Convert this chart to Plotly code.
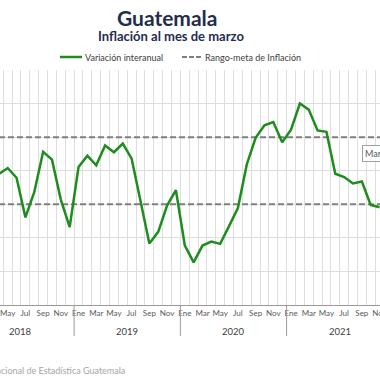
import plotly.graph_objects as go
import numpy as np

# ---- data ----
month_names = ["Ene", "Feb", "Mar", "Abr", "May", "Jun", "Jul", "Ago", "Sep", "Oct", "Nov", "Dic"]
years = [2018, 2019, 2020, 2021]
first_year = 2018
start_month = 4   # abril 2018
# Variación interanual (%), abril 2018 - noviembre 2021
inflacion = [
    3.90, 4.08, 3.79, 2.61, 3.36, 4.56, 4.33, 3.14, 2.32,                 # 2018 (abr-dic)
    4.11, 4.45, 4.16, 4.75, 4.55, 4.81, 4.36, 3.10, 1.83, 2.18, 2.96, 3.42,  # 2019
    1.78, 1.27, 1.77, 1.89, 1.82, 2.35, 2.89, 4.18, 4.98, 5.35, 5.45, 4.85,  # 2020
    5.22, 6.00, 5.82, 5.20, 5.16, 3.91, 3.81, 3.62, 3.68, 2.98, 2.91,        # 2021 (ene-nov)
]
meta_inferior = 3.0
meta_superior = 5.0

# month index (0 = enero 2018)
idx = np.arange(len(inflacion)) + (start_month - 1)
tick_idx = [i for i in range(0, 12 * len(years)) if i % 2 == 0]
tick_txt = [month_names[i % 12] for i in tick_idx]

GREEN = "#1e8c1e"
GREY = "#7f7f7f"
NAVY = "#1f2d4f"
FONT = "Lato"

fig = go.Figure()
for val in (meta_superior, meta_inferior):
    fig.add_trace(go.Scatter(x=[idx[0] - 1, idx[-1] + 1], y=[val, val], mode="lines",
                             line=dict(color=GREY, width=2, dash="6px,3px"),
                             showlegend=False, hoverinfo="skip"))
fig.add_trace(go.Scatter(x=idx, y=inflacion, mode="lines",
                         line=dict(color=GREEN, width=2.5), showlegend=False))

H0, H1 = 70, 305   # plot top/bottom px
ph = H1 - H0
def py(px):
    return (H1 - px) / ph

shapes = []
annotations = []
# year dividers & labels
for k, yr in enumerate(years):
    if k > 0:
        shapes.append(dict(type="line", xref="x", yref="paper", x0=12 * k - 0.5, x1=12 * k - 0.5,
                           y0=0, y1=py(336), line=dict(color="#9a9a9a", width=1)))
    annotations.append(dict(x=12 * k + 5.5, xref="x", y=py(331), yref="paper", text=str(yr),
                            showarrow=False, font=dict(family=FONT, size=9.5, color="#404040"),
                            xanchor="center", yanchor="middle"))

# titles
annotations.append(dict(x=167.5 / 380, y=py(17), xref="paper", yref="paper", text="<b>Guatemala</b>",
                        showarrow=False, font=dict(family=FONT, size=21, color=NAVY),
                        xanchor="center", yanchor="middle"))
annotations.append(dict(x=171 / 380, y=py(36), xref="paper", yref="paper",
                        text="<b>Inflación al mes de marzo</b>",
                        showarrow=False, font=dict(family=FONT, size=13, color=NAVY),
                        xanchor="center", yanchor="middle"))
# legend
shapes.append(dict(type="line", xref="paper", yref="paper", x0=60 / 380, x1=82 / 380,
                   y0=py(57), y1=py(57), line=dict(color=GREEN, width=2.5)))
annotations.append(dict(x=83 / 380, y=py(57), xref="paper", yref="paper", text="Variación interanual",
                        showarrow=False, font=dict(family=FONT, size=9, color="#404040"),
                        xanchor="left", yanchor="middle"))
shapes.append(dict(type="line", xref="paper", yref="paper", x0=182 / 380, x1=202 / 380,
                   y0=py(57), y1=py(57), line=dict(color=GREY, width=2, dash="5px,2px")))
annotations.append(dict(x=203 / 380, y=py(57), xref="paper", yref="paper", text="Rango-meta de Inflación",
                        showarrow=False, font=dict(family=FONT, size=9, color="#404040"),
                        xanchor="left", yanchor="middle"))
# label box at right
annotations.append(dict(x=362 / 380, y=py(153), xref="paper", yref="paper", text="Marzo 2021",
                        showarrow=False, font=dict(family=FONT, size=9, color="#595959"),
                        xanchor="left", yanchor="middle", bgcolor="white",
                        bordercolor="#a0a0a0", borderwidth=1, borderpad=2))
# source
annotations.append(dict(x=127 / 380, y=py(370), xref="paper", yref="paper",
                        text="Fuente: Instituto Nacional de Estadística Guatemala",
                        showarrow=False, font=dict(family=FONT, size=9, color="#a6a6a6"),
                        xanchor="right", yanchor="middle"))

fig.update_layout(
    width=380, height=380,
    margin=dict(l=0, r=0, t=H0, b=380 - H1, pad=0, autoexpand=False),
    paper_bgcolor="white", plot_bgcolor="white",
    showlegend=False,
    shapes=shapes, annotations=annotations,
    xaxis=dict(range=[3.13, 46.05], tickmode="array", tickvals=tick_idx, ticktext=tick_txt,
               ticklabeloverflow="allow", automargin=False,
               showgrid=False, zeroline=False, ticks="", showline=True, linecolor="#9a9a9a",
               linewidth=1, tickfont=dict(family=FONT, size=8, color="#595959"),
               minor=dict(tickmode="linear", tick0=0.5, dtick=1, showgrid=True,
                          gridcolor="#dedede", gridwidth=1, ticks="")),
    yaxis=dict(range=[0, 7], tickmode="array", tickvals=[1, 2, 3, 4, 5, 6], showgrid=True,
               gridcolor="#dedede", gridwidth=1, showticklabels=False, zeroline=False,
               showline=False, automargin=False),
)

fig.write_html("out.html", config={"displayModeBar": False},
               post_script="document.body.style.margin='0px';document.body.style.overflow='hidden';")
